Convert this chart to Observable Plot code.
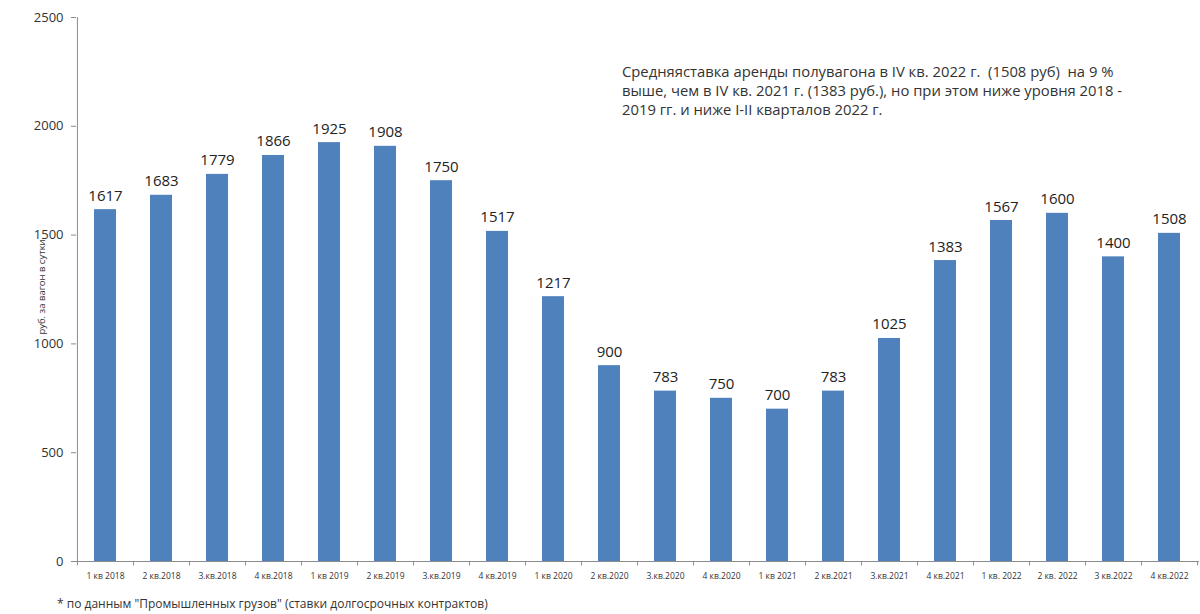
<!DOCTYPE html>
<html>
<head>
<meta charset="utf-8">
<script src="https://cdn.jsdelivr.net/npm/d3@7"></script>
<script src="https://cdn.jsdelivr.net/npm/@observablehq/plot@0.6"></script>
<style>
  html, body { margin: 0; padding: 0; background: #fff; }
  #wrap { position: relative; width: 1200px; height: 614px; overflow: hidden; font-family: "Open Sans", sans-serif; }
  #note { position: absolute; left: 622px; top: 62px; font-size: 14.8px; line-height: 19px; color: #333; white-space: pre; }
  #foot { position: absolute; left: 57px; top: 595px; font-size: 12px; color: #333; white-space: pre; }
  #ylab { position: absolute; left: 41px; top: 287px; font-size: 9.5px; color: #333; white-space: pre;
          transform: translate(-50%, -50%) rotate(-90deg); }
</style>
</head>
<body>
<div id="wrap">
  <div id="chart"></div>
  <div id="ylab"></div>
  <div id="note"></div>
  <div id="foot"></div>
</div>
<script>
const quarters = ["1 кв 2018","2 кв.2018","3.кв.2018","4 кв.2018","1 кв 2019","2 кв.2019","3.кв.2019","4 кв.2019","1 кв 2020","2 кв.2020","3.кв.2020","4 кв.2020","1 кв 2021","2 кв.2021","3.кв.2021","4 кв.2021","1 кв. 2022","2 кв. 2022","3 кв.2022","4 кв.2022"];
const rates = [1617,1683,1779,1866,1925,1908,1750,1517,1217,900,783,750,700,783,1025,1383,1567,1600,1400,1508];
const yTicks = [0,500,1000,1500,2000,2500];
const yLabel = "руб. за вагон в сутки";
const noteLines = [
  "Средняяставка аренды полувагона в IV кв. 2022 г.  (1508 руб)  на 9 %",
  "выше, чем в IV кв. 2021 г. (1383 руб.), но при этом ниже уровня 2018 -",
  "2019 гг. и ниже I-II кварталов 2022 г."
];
const footnote = "* по данным \"Промышленных грузов\" (ставки долгосрочных контрактов)";

const data = quarters.map((q, i) => ({q, v: rates[i]}));
const W = 1200, ML = 76, MR = 1;
const step = (W - ML - MR) / quarters.length;
const axisColor = "#8c8c8c";

const chart = Plot.plot({
  width: W,
  height: 590,
  marginLeft: ML,
  marginRight: MR,
  marginTop: 17,
  marginBottom: 29,
  style: {fontFamily: "'Open Sans', sans-serif", color: "#333", background: "#fff"},
  x: {domain: quarters, paddingInner: 0.6, paddingOuter: 0.3},
  y: {domain: [0, 2500]},
  marks: [
    Plot.barY(data, {x: "q", y: "v", fill: "#4F81BD"}),
    Plot.ruleY([0], {stroke: axisColor}),
    Plot.ruleX([quarters[0]], {dx: -step / 2, y1: 0, y2: 2500, stroke: axisColor}),
    Plot.ruleX(quarters, {dx: step / 2, y1: 0, y2: -20, stroke: axisColor}),
    Plot.ruleX([quarters[0]], {dx: -step / 2, y1: 0, y2: -20, stroke: axisColor}),
    Plot.axisY({ticks: yTicks, tickFormat: d => String(d), tickSize: 5, tickPadding: 8, fontSize: 13,
      stroke: axisColor, label: null}),
    Plot.axisX({tickSize: 0, tickPadding: 11, fontSize: 8.5, label: null}),
    Plot.text(data, {x: "q", y: "v", text: d => String(d.v), dy: -9, lineAnchor: "bottom",
      fontSize: 15, fill: "#222"})
  ]
});
document.getElementById("chart").appendChild(chart);
document.getElementById("ylab").textContent = yLabel;
document.getElementById("note").textContent = noteLines.join("\n");
document.getElementById("foot").textContent = footnote;
</script>
</body>
</html>
